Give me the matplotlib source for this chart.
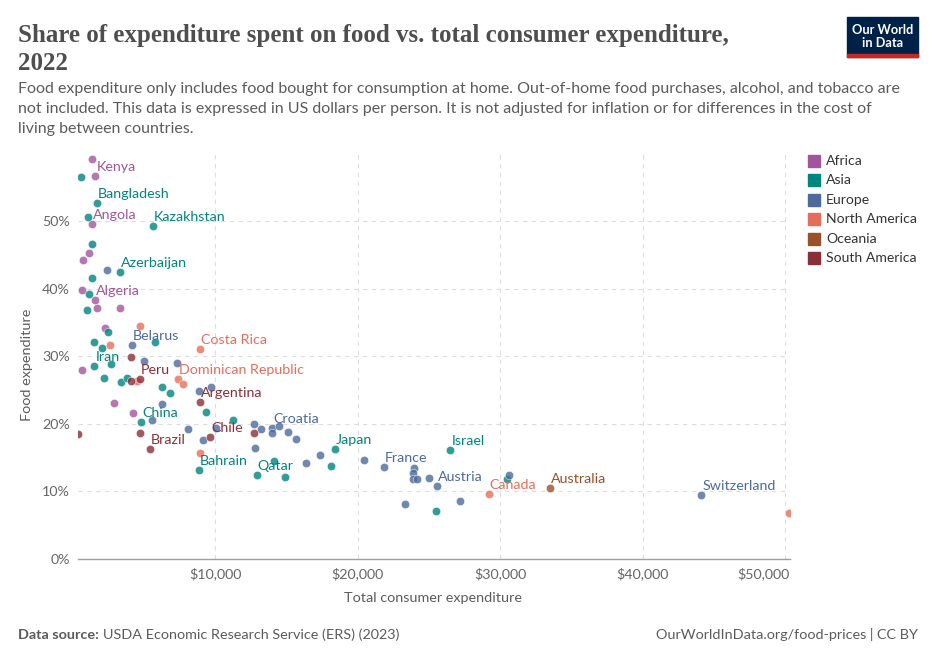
"""
Share of expenditure spent on food vs. total consumer expenditure, 2022 (OWID style).
"""
import matplotlib
matplotlib.use("Agg")
import matplotlib.pyplot as plt
from matplotlib.patches import Rectangle
from matplotlib.transforms import ScaledTranslation

plt.rcParams["font.family"] = ["Lato", "DejaVu Sans"]

W, H = 936, 662

# --- data: (total consumer expenditure, USD per person) vs (food share, %) ---
africa_x = [1390, 1600, 1390, 1180, 720, 690, 1610, 1700, 3330, 2280, 700, 2930, 4260]
africa_y = [59.1, 56.7, 49.6, 45.3, 44.3, 39.8, 38.3, 37.2, 37.1, 34.1, 28.0, 23.1, 21.6]

asia_x = [580, 1720, 1090, 5650, 1350, 3330, 1390, 1180, 1040, 2510, 1540, 2090,
          5790, 1540, 2680, 2180, 3400, 3800, 6280, 6820, 9370, 4810, 11260, 8890,
          12930, 14160, 14930, 18400, 18160, 26510, 30510, 25510]
asia_y = [56.5, 52.7, 50.6, 49.2, 46.6, 42.5, 41.5, 39.2, 36.8, 33.6, 32.1, 31.2,
          32.1, 28.5, 28.8, 26.8, 26.2, 26.8, 25.5, 24.6, 21.7, 20.2, 20.6, 13.1,
          12.4, 14.5, 12.2, 16.2, 13.7, 16.1, 11.9, 7.1]

europe_x = [2400, 4180, 5040, 7310, 8860, 9740, 6280, 5610, 8130, 10090, 9190,
            12760, 13230, 14000, 14000, 14470, 15140, 15680, 12830, 16390, 17390,
            20480, 21860, 23960, 23870, 23870, 24150, 25040, 25580, 30610, 23350,
            27210, 44110]
europe_y = [42.8, 31.7, 29.3, 29.0, 24.9, 25.4, 23.0, 20.5, 19.2, 19.4, 17.6,
            20.0, 19.2, 19.4, 18.7, 19.7, 18.8, 17.8, 16.4, 14.2, 15.4,
            14.7, 13.6, 13.5, 12.7, 11.8, 11.8, 12.0, 10.8, 12.5, 8.2,
            8.6, 9.4]

namerica_x = [4720, 2650, 8970, 4560, 7420, 7730, 8960, 29210, 50280]
namerica_y = [34.5, 31.6, 31.1, 26.4, 26.7, 25.9, 15.7, 9.6, 6.8]

oceania_x = [33530]
oceania_y = [10.5]

samerica_x = [4110, 4110, 4740, 8970, 410, 4740, 9670, 12760, 5440]
samerica_y = [29.9, 26.3, 26.7, 23.2, 18.5, 18.6, 18.0, 18.7, 16.2]

regions = ["Africa", "Asia", "Europe", "North America", "Oceania", "South America"]
colors = ["#A2559C", "#00847E", "#4C6A9C", "#E56E5A", "#9A5129", "#883039"]
series = [(africa_x, africa_y), (asia_x, asia_y), (europe_x, europe_y),
          (namerica_x, namerica_y), (oceania_x, oceania_y), (samerica_x, samerica_y)]

# labelled countries: name, region index, x, y
labels = [
    ("Kenya", 0, 1600, 56.7), ("Angola", 0, 1390, 49.6), ("Algeria", 0, 1610, 38.3),
    ("Bangladesh", 1, 1720, 52.7), ("Kazakhstan", 1, 5650, 49.2),
    ("Azerbaijan", 1, 3330, 42.5), ("Iran", 1, 1540, 28.5), ("China", 1, 4810, 20.2),
    ("Bahrain", 1, 8890, 13.1), ("Qatar", 1, 12930, 12.4), ("Japan", 1, 18400, 16.2),
    ("Israel", 1, 26510, 16.1),
    ("Belarus", 2, 4180, 31.7), ("Croatia", 2, 14000, 19.4), ("France", 2, 21860, 13.6),
    ("Austria", 2, 25580, 10.8), ("Switzerland", 2, 44110, 9.4),
    ("Costa Rica", 3, 8970, 31.1), ("Dominican Republic", 3, 7420, 26.7),
    ("Canada", 3, 29210, 9.6),
    ("Australia", 4, 33530, 10.5),
    ("Peru", 5, 4740, 26.7), ("Argentina", 5, 8970, 23.2), ("Chile", 5, 9670, 18.0),
    ("Brazil", 5, 5440, 16.2),
]

x_ticks = [10000, 20000, 30000, 40000, 50000]
x_ticklabels = ["$10,000", "$20,000", "$30,000", "$40,000", "$50,000"]
y_ticks = [0, 10, 20, 30, 40, 50]
y_ticklabels = ["0%", "10%", "20%", "30%", "40%", "50%"]


def fx(px):
    return px / W


def fy(py):
    return 1 - py / H


fig = plt.figure(figsize=(W / 100, H / 100), dpi=100)
ax = fig.add_axes([fx(78), fy(559), fx(790) - fx(78), fy(153.4) - fy(559)])

for (xs, ys), c in zip(series, colors):
    ax.scatter(xs, ys, s=36, color=c, alpha=0.8, edgecolors="white",
               linewidths=0.4, zorder=3)

for name, ri, x, y in labels:
    ax.annotate(name, (x, y), xytext=(1, 3), textcoords="offset pixels",
                ha="left", va="bottom", fontsize=10.3, color=colors[ri], zorder=4)

ax.set_xlim(386, 50350)
ax.set_ylim(0, 60)
ax.set_xticks(x_ticks)
ax.set_xticklabels(x_ticklabels)
ax.set_yticks(y_ticks)
ax.set_yticklabels(y_ticklabels)
ax.tick_params(axis="both", length=0, labelsize=10.3, colors="#666666")
ax.tick_params(axis="x", pad=6)
ax.tick_params(axis="y", pad=6)
# last x tick label is kept inside the plot edge
last = ax.get_xticklabels()[-1]
last.set_horizontalalignment("right")
last.set_transform(last.get_transform() + ScaledTranslation(5 / 100, 0, fig.dpi_scale_trans))

for s in ["top", "right", "left"]:
    ax.spines[s].set_visible(False)
ax.spines["bottom"].set_color("#a0a0a0")
ax.spines["bottom"].set_linewidth(1)
ax.grid(True, color="#dddddd", linestyle=(0, (4, 4)), linewidth=0.8, zorder=0)
ax.yaxis.get_gridlines()[0].set_visible(False)

fig.text(fx(27), fy(365), "Food expenditure", rotation=90, ha="center", va="center",
         fontsize=10.4, color="#5b5b5b")
fig.text(fx(433), fy(598), "Total consumer expenditure", ha="center", va="center",
         fontsize=10.4, color="#5b5b5b")

# --- header ---
fig.text(fx(18), fy(42), "Share of expenditure spent on food vs. total consumer expenditure,",
         fontsize=18, color="#4e4e4e", family=["Liberation Serif"], weight="bold",
         va="baseline")
fig.text(fx(18), fy(70), "2022", fontsize=18, color="#4e4e4e",
         family=["Liberation Serif"], weight="bold", va="baseline")
subtitle = [
    "Food expenditure only includes food bought for consumption at home. Out-of-home food purchases, alcohol, and tobacco are",
    "not included. This data is expressed in US dollars per person. It is not adjusted for inflation or for differences in the cost of",
    "living between countries.",
]
for i, line in enumerate(subtitle):
    fig.text(fx(18), fy(93.5 + 19.5 * i), line, fontsize=11.5, color="#5b5b5b", va="baseline")

# logo
fig.patches.append(Rectangle((fx(847), fy(56.7)), fx(918) - fx(847), fy(17.3) - fy(56.7),
                             transform=fig.transFigure, color="#002147", zorder=1))
fig.patches.append(Rectangle((fx(847), fy(56.7)), fx(918) - fx(847), fy(54) - fy(56.7),
                             transform=fig.transFigure, color="#ce261e", zorder=2))
fig.text(fx(882.5), fy(30), "Our World", ha="center", va="center", fontsize=9.2,
         color="white", weight="bold")
fig.text(fx(882.5), fy(42.7), "in Data", ha="center", va="center", fontsize=9.2,
         color="white", weight="bold")

# legend
for i, (r, c) in enumerate(zip(regions, colors)):
    yc = 161 + 19.4 * i
    fig.patches.append(Rectangle((fx(808), fy(yc + 6)), fx(820) - fx(808), fy(yc - 6) - fy(yc + 6),
                                 transform=fig.transFigure, color=c))
    fig.text(fx(826), fy(yc), r, ha="left", va="center", fontsize=10.1, color="#333333")

# footer
t = fig.text(fx(18), fy(639), "Data source:", fontsize=10.4, color="#5b5b5b",
             weight="bold", va="baseline")
fig.canvas.draw()
bb = t.get_window_extent()
fig.text(bb.x1 / W + fx(4), fy(639), "USDA Economic Research Service (ERS) (2023)",
         fontsize=10.4, color="#5b5b5b", va="baseline")
fig.text(fx(918), fy(639), "OurWorldInData.org/food-prices | CC BY", fontsize=10.4,
         color="#5b5b5b", ha="right", va="baseline")

fig.savefig("out.png", dpi=100)
